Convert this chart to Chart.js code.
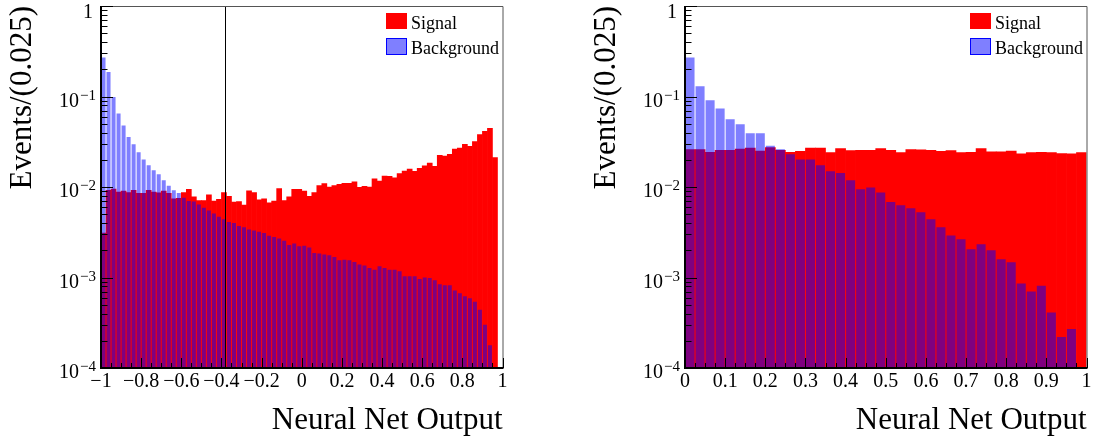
<!DOCTYPE html>
<html>
<head>
<meta charset="utf-8">
<script src="https://cdn.jsdelivr.net/npm/chart.js@4.4.0/dist/chart.umd.min.js"></script>
<style>
  html, body { margin: 0; padding: 0; background: #fff; }
  #wrap { position: relative; width: 1094px; height: 443px; }
  .pane { position: absolute; top: 0; width: 547px; height: 443px; }
</style>
</head>
<body>
<div id="wrap">
  <div class="pane" style="left:0"><canvas id="left"></canvas></div>
  <div class="pane" style="left:547px"><canvas id="right"></canvas></div>
</div>
<script>
// histogram bin width (Events/(0.025))
const binWidth = 0.025;

// left panel: NN output in [-1, 1], 80 bins
const leftSignal = [
  0.0031, 0.0092, 0.0095, 0.0088, 0.0090, 0.0087, 0.0092, 0.0085, 0.0085, 0.0092,
  0.0088, 0.0086, 0.0090, 0.0085, 0.0074, 0.0075, 0.0087, 0.0094, 0.0078, 0.0071,
  0.0071, 0.0082, 0.0070, 0.0073, 0.0087, 0.0079, 0.0068, 0.0069, 0.0063, 0.0091,
  0.0087, 0.0072, 0.0074, 0.0067, 0.0070, 0.0096, 0.0071, 0.0078, 0.0094, 0.0094,
  0.0090, 0.0079, 0.0087, 0.0104, 0.0109, 0.0100, 0.0104, 0.0107, 0.0110, 0.0110,
  0.0114, 0.0099, 0.0102, 0.0100, 0.0123, 0.0116, 0.0132, 0.0131, 0.0126, 0.0141,
  0.0150, 0.0158, 0.0149, 0.0161, 0.0171, 0.0184, 0.0169, 0.0224, 0.0220, 0.0230,
  0.0263, 0.0270, 0.0296, 0.0282, 0.0317, 0.0379, 0.0412, 0.0445, 0.0211, 0
];
const leftBackground = [
  0.269, 0.187, 0.099, 0.065, 0.0477, 0.0357, 0.0296, 0.0242, 0.0201, 0.0174,
  0.0153, 0.0138, 0.0119, 0.0103, 0.0092, 0.0086, 0.0076, 0.0070, 0.0069, 0.0064,
  0.0059, 0.0055, 0.0051, 0.0047, 0.0044, 0.0041, 0.0040, 0.0037, 0.0036, 0.0034,
  0.0033, 0.0032, 0.0031, 0.0029, 0.0028, 0.0027, 0.00254, 0.00229, 0.00237, 0.00221,
  0.00225, 0.00214, 0.00187, 0.00184, 0.00180, 0.00176, 0.00169, 0.00155, 0.00157, 0.00155,
  0.00148, 0.00139, 0.00136, 0.00127, 0.00122, 0.00133, 0.00127, 0.00122, 0.00122, 0.00117,
  0.00103, 0.00103, 0.00103, 0.00096, 0.00100, 0.00099, 0.00093, 0.00084, 0.00082, 0.00082,
  0.00072, 0.00067, 0.00062, 0.00059, 0.00054, 0.00044, 0.00030, 0.000178, 0, 0
];
const leftCut = -0.38;

// right panel: NN output in [0, 1], 40 bins
const rightSignal = [
  0.0259, 0.0259, 0.0242, 0.0255, 0.0255, 0.0262, 0.0270, 0.0250, 0.0272, 0.0255,
  0.0242, 0.0248, 0.0270, 0.0270, 0.0240, 0.0266, 0.0252, 0.0255, 0.0255, 0.0266,
  0.0255, 0.0240, 0.0259, 0.0257, 0.0255, 0.0248, 0.0252, 0.0240, 0.0242, 0.0266,
  0.0244, 0.0244, 0.0250, 0.0232, 0.0240, 0.0242, 0.0240, 0.0234, 0.0232, 0.0240
];
const rightBackground = [
  0.269, 0.130, 0.0908, 0.0735, 0.0560, 0.0493, 0.0392, 0.0392, 0.0286, 0.0261,
  0.0230, 0.0201, 0.0201, 0.0174, 0.0149, 0.0143, 0.0119, 0.00944, 0.00985, 0.0087,
  0.00683, 0.00628, 0.00582, 0.00525, 0.00440, 0.00359, 0.00292, 0.00264, 0.00205, 0.00233,
  0.00200, 0.00159, 0.00147, 0.00086, 0.00070, 0.00081, 0.00041, 0.00022, 0.00027, 0
];

// y axis decades that get a label (10^k)
const yDecades = [0, -1, -2, -3, -4];
const seriesNames = ['Signal', 'Background'];
const signalColor = '#ff0000';
const backgroundColor = 'rgba(0, 0, 255, 0.5)';

const serif = '"Liberation Serif", "Times New Roman", serif';

function toPoints(values, lo) {
  return values.map((v, i) => ({ x: lo + binWidth * (i + 0.5), y: v > 0 ? v : null }));
}

function fmtX(v) {
  const r = Math.round(v * 10) / 10;
  return r < 0 ? '\u2212' + (-r) : String(r);
}

// frame, inside ticks, log labels, cut line and legend, ROOT style
const rootFrame = {
  id: 'rootFrame',
  afterDatasetsDraw(chart, args, opts) {
    const { ctx, chartArea: a, scales: { x, y } } = chart;
    ctx.save();

    if (opts.cut !== undefined) {
      const px = Math.round(x.getPixelForValue(opts.cut)) + 0.5;
      ctx.strokeStyle = '#000';
      ctx.lineWidth = 1;
      ctx.beginPath(); ctx.moveTo(px, a.top); ctx.lineTo(px, a.bottom); ctx.stroke();
    }

    // top / right border
    ctx.strokeStyle = '#555';
    ctx.lineWidth = 1;
    ctx.beginPath();
    ctx.moveTo(a.left, a.top + 0.5); ctx.lineTo(a.right + 0.5, a.top + 0.5); ctx.lineTo(a.right + 0.5, a.bottom);
    ctx.stroke();

    // axes
    ctx.strokeStyle = '#000';
    ctx.lineWidth = 2;
    ctx.beginPath();
    ctx.moveTo(a.left, a.top); ctx.lineTo(a.left, a.bottom); ctx.lineTo(a.right + 1, a.bottom);
    ctx.stroke();

    // y ticks (log)
    ctx.lineWidth = 1;
    ctx.beginPath();
    for (let k = -4; k <= 0; k++) {
      for (let m = 1; m <= 9; m++) {
        const v = m * Math.pow(10, k);
        if (v > 1.0000001) break;
        const py = Math.round(y.getPixelForValue(v)) + 0.5;
        const len = m === 1 ? 12 : 6.5;
        ctx.moveTo(a.left, py); ctx.lineTo(a.left + len, py);
      }
    }
    // x ticks
    const n = Math.round((x.max - x.min) / opts.minorStep);
    for (let i = 0; i <= n; i++) {
      const v = x.min + i * opts.minorStep;
      const q = v / opts.majorStep;
      const major = Math.abs(q - Math.round(q)) < 1e-6;
      const px = Math.round(x.getPixelForValue(v)) + 0.5;
      ctx.moveTo(px, a.bottom); ctx.lineTo(px, a.bottom - (major ? 10 : 5));
    }
    ctx.stroke();

    // y labels with superscript exponents
    ctx.fillStyle = '#000';
    ctx.textAlign = 'right';
    ctx.textBaseline = 'alphabetic';
    yDecades.forEach(k => {
      const py = y.getPixelForValue(Math.pow(10, k));
      if (k === 0) {
        ctx.font = '20px ' + serif;
        ctx.fillText('1', a.left - 8, py + 12);
      } else {
        const ex = '\u2212' + (-k);
        ctx.font = '15px ' + serif;
        ctx.fillText(ex, a.left - 5, py + 3);
        const w = ctx.measureText(ex).width;
        ctx.font = '20px ' + serif;
        ctx.fillText('10', a.left - 6 - w, py + 10);
      }
    });

    // legend
    const ds = chart.data.datasets;
    const lx = a.right - 116.5;
    ctx.fillStyle = ds[0].backgroundColor;
    ctx.fillRect(lx, 13, 21, 16);
    ctx.fillStyle = ds[1].backgroundColor;
    ctx.fillRect(lx, 38, 21, 17);
    ctx.strokeStyle = '#0000ff';
    ctx.strokeRect(lx + 0.5, 38.5, 20, 16);
    ctx.fillStyle = '#000';
    ctx.textAlign = 'left';
    ctx.font = '18px ' + serif;
    ctx.fillText(ds[0].label, lx + 25, 28.5);
    ctx.fillText(ds[1].label, lx + 25, 53.5);

    ctx.restore();
  }
};

function makeChart(id, cfg) {
  const canvas = document.getElementById(id);
  return new Chart(canvas, {
    type: 'bar',
    data: {
      datasets: [
        {
          label: seriesNames[0],
          data: toPoints(cfg.signal, cfg.min),
          backgroundColor: signalColor,
          borderWidth: 0,
          barPercentage: 1,
          categoryPercentage: 1,
          grouped: false,
          order: 2
        },
        {
          label: seriesNames[1],
          data: toPoints(cfg.background, cfg.min),
          backgroundColor: backgroundColor,
          borderWidth: 0,
          barPercentage: cfg.bgBar,
          categoryPercentage: 1,
          grouped: false,
          order: 1
        }
      ]
    },
    options: {
      responsive: true,
      maintainAspectRatio: false,
      animation: false,
      layout: { padding: { top: 6, right: cfg.padRight, bottom: 0, left: 0 } },
      plugins: {
        legend: { display: false },
        tooltip: { enabled: false },
        rootFrame: { cut: cfg.cut, majorStep: cfg.majorStep, minorStep: cfg.minorStep }
      },
      scales: {
        x: {
          type: 'linear',
          min: cfg.min,
          max: cfg.max,
          offset: false,
          grid: { display: false, drawTicks: false },
          border: { display: false },
          ticks: {
            stepSize: cfg.majorStep,
            autoSkip: false,
            maxTicksLimit: 30,
            maxRotation: 0,
            minRotation: 0,
            padding: 2,
            color: '#000',
            font: { family: serif, size: 20 },
            callback: fmtX
          },
          title: {
            display: true,
            text: 'Neural Net Output',
            align: 'end',
            color: '#000',
            font: { family: serif, size: 31 },
            padding: { top: 0, bottom: 4 }
          },
          afterFit: s => { s.height = 75; }
        },
        y: {
          type: 'logarithmic',
          min: 1e-4,
          max: 1,
          grid: { display: false, drawTicks: false },
          border: { display: false },
          ticks: { display: false },
          title: {
            display: true,
            text: 'Events/(0.025)',
            align: 'end',
            color: '#000',
            font: { family: serif, size: 31 },
            padding: { top: cfg.titlePad, bottom: 0 }
          },
          afterFit: s => { s.width = cfg.yWidth; }
        }
      }
    },
    plugins: [rootFrame]
  });
}

makeChart('left', {
  signal: leftSignal, background: leftBackground,
  min: -1, max: 1, majorStep: 0.2, minorStep: 0.05,
  cut: leftCut, bgBar: 0.8, yWidth: 101, padRight: 44.5, titlePad: 4
});

makeChart('right', {
  signal: rightSignal, background: rightBackground,
  min: 0, max: 1, majorStep: 0.1, minorStep: 0.025,
  cut: undefined, bgBar: 0.9, yWidth: 138, padRight: 7.5, titlePad: 41
});
</script>
</body>
</html>
